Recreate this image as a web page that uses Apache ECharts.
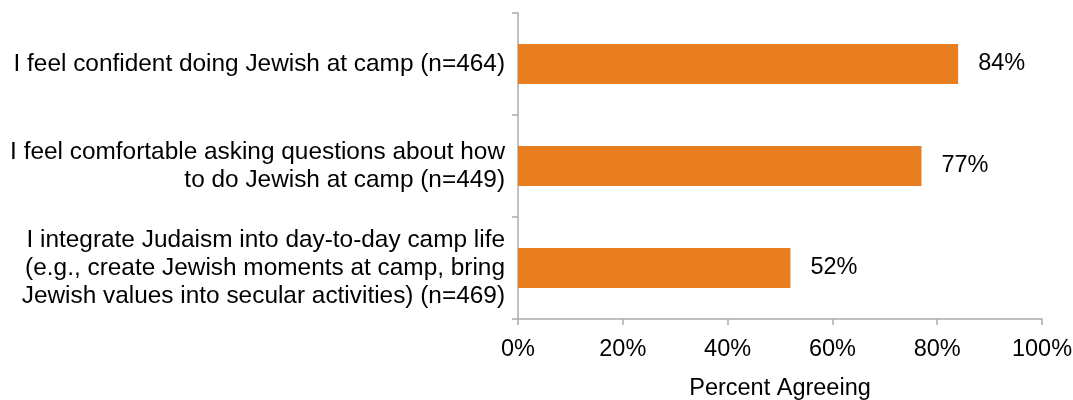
<!DOCTYPE html>
<html>
<head>
<meta charset="utf-8">
<script src="https://cdn.jsdelivr.net/npm/echarts@6/dist/echarts.min.js"></script>
<style>
html,body{margin:0;padding:0;background:#fff;}
#chart{width:1073px;height:400px;}
</style>
</head>
<body>
<div id="chart"></div>
<script>
const categories = [
  "I feel confident doing Jewish at camp (n=464)",
  "I feel comfortable asking questions about how\nto do Jewish at camp (n=449)",
  "I integrate Judaism into day-to-day camp life\n(e.g., create Jewish moments at camp, bring\nJewish values into secular activities) (n=469)"
];
const values = [84, 77, 52];
const xTicks = [0, 20, 40, 60, 80, 100];
const xAxisTitle = "Percent Agreeing";

const FONT = "'Liberation Sans', Arial, sans-serif";
const FS = 23.5;
const chart = echarts.init(document.getElementById('chart'), null, {renderer: 'canvas'});
chart.setOption({
  animation: false,
  backgroundColor: '#ffffff',
  grid: {left: 518, right: 31, top: 13, bottom: 81, containLabel: false, outerBoundsMode: 'none'},
  xAxis: {
    type: 'value',
    min: xTicks[0],
    max: xTicks[xTicks.length - 1],
    interval: 20,
    name: xAxisTitle,
    nameLocation: 'middle',
    nameGap: 58,
    nameTextStyle: {fontFamily: FONT, fontSize: FS, color: '#000', verticalAlign: 'top'},
    axisLine: {show: true, lineStyle: {color: '#ABABAB', width: 1.5}},
    axisTick: {show: true, length: 6, lineStyle: {color: '#ABABAB', width: 1.5}},
    axisLabel: {fontFamily: FONT, fontSize: FS, color: '#000', margin: 19, formatter: v => v + '%'},
    splitLine: {show: false}
  },
  yAxis: {
    type: 'category',
    data: categories,
    inverse: true,
    axisLine: {show: true, lineStyle: {color: '#ABABAB', width: 1.5}},
    axisTick: {show: true, length: 6, lineStyle: {color: '#ABABAB', width: 1.5}},
    axisLabel: {fontFamily: FONT, fontSize: 24.4, color: '#000', margin: 13, lineHeight: 28, align: 'right'},
    splitLine: {show: false}
  },
  series: [{
    type: 'bar',
    data: values,
    barWidth: 40,
    itemStyle: {color: '#E87E20'},
    label: {
      show: true,
      position: 'right',
      distance: 20,
      fontFamily: FONT,
      fontSize: FS,
      color: '#000',
      formatter: p => p.value + '%'
    }
  }]
});
</script>
</body>
</html>
